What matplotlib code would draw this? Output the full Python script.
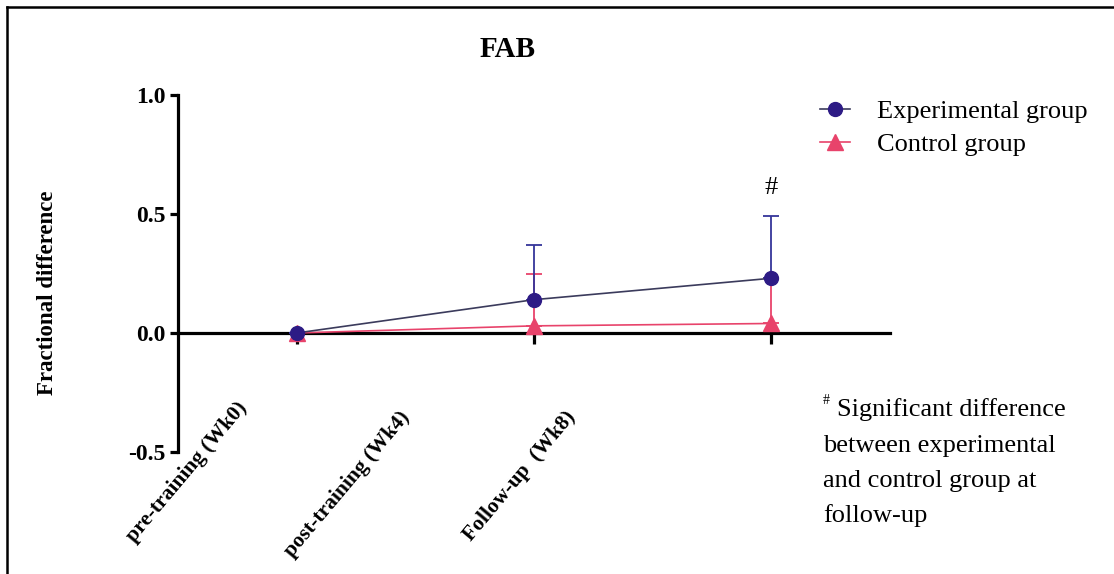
import matplotlib.pyplot as plt
from matplotlib.lines import Line2D

plt.rcParams['font.family'] = ['Liberation Serif', 'DejaVu Serif']

# time points and group means (fractional difference) with upper SD limits
timepoints = ['pre-training (Wk0)', 'post-training (Wk4)', 'Follow-up  (Wk8)']
exp_mean = [0.0, 0.14, 0.23]
exp_upper = [0.0, 0.37, 0.49]
ctrl_mean = [0.0, 0.03, 0.04]
ctrl_upper = [0.0, 0.25, 0.23]

footnote = ['Significant difference', 'between experimental',
            'and control group at', 'follow-up']

exp_color = '#2d1b85'
exp_line = '#3b3b5c'
ctrl_color = '#e8436b'

W, H = 1114, 574
fig = plt.figure(figsize=(W / 100, H / 100), dpi=100)
ax = fig.add_axes([178 / W, 1 - 452 / H, (890 - 178) / W, (452 - 95) / H])

x = list(range(len(timepoints)))
ctrl_err = [[0] * 3, [u - m for u, m in zip(ctrl_upper, ctrl_mean)]]
exp_err = [[0] * 3, [u - m for u, m in zip(exp_upper, exp_mean)]]

# control drawn first so the experimental group sits on top
ax.errorbar(x, ctrl_mean, yerr=ctrl_err, fmt='none', ecolor=ctrl_color,
            elinewidth=1.3, capsize=6, capthick=1.3, zorder=3)
ax.plot(x, ctrl_mean, color=ctrl_color, lw=1.2, marker='^', ms=11,
        mfc=ctrl_color, mec=ctrl_color, zorder=4, label='Control group')
ax.errorbar(x, exp_mean, yerr=exp_err, fmt='none', ecolor='#35359a',
            elinewidth=1.3, capsize=6, capthick=1.3, zorder=5)
ax.plot(x, exp_mean, color=exp_line, lw=1.2, marker='o', ms=10,
        mfc=exp_color, mec=exp_color, zorder=6, label='Experimental group')

ax.set_xlim(-0.5, 2.5)
ax.set_ylim(-0.5, 1.0)
ax.set_yticks([-0.5, 0.0, 0.5, 1.0])
ax.set_yticklabels(['-0.5', '0.0', '0.5', '1.0'], fontsize=17, fontweight='bold')
ax.set_xticks(x)
ax.set_xticklabels([])

for s in ['top', 'right']:
    ax.spines[s].set_visible(False)
ax.spines['left'].set_linewidth(2.3)
ax.spines['bottom'].set_linewidth(2.3)
ax.spines['bottom'].set_position(('data', 0))
ax.spines['left'].set_bounds(-0.5, 1.0)
ax.tick_params(axis='y', length=6, width=2.3, pad=3)
ax.tick_params(axis='x', length=8, width=2.3)

# rotated category labels under the plot
label_x = [-0.225, 0.462, 1.160]
label_y = [-0.30, -0.34, -0.34]
for lx, ly, t in zip(label_x, label_y, timepoints):
    ax.text(lx, ly, t, rotation=50, rotation_mode='anchor', ha='right',
            va='center', fontsize=15.5, fontweight='bold', clip_on=False)

# significance mark above follow-up
ax.text(2, 0.61, '#', ha='center', va='center', fontsize=19)

fig.text(508 / W, 1 - 57 / H, 'FAB', ha='center', va='baseline',
         fontsize=21, fontweight='bold')
fig.text(48 / W, 1 - 293 / H, 'Fractional difference', rotation=90,
         ha='center', va='center', fontsize=16.5, fontweight='bold')

h, l = ax.get_legend_handles_labels()
fig.legend(h[::-1], l[::-1], loc='upper left', bbox_to_anchor=(820 / W, 1 - 100 / H),
           frameon=False, fontsize=19, handlelength=1.15, handletextpad=1.0,
           labelspacing=0.36, borderpad=0, borderaxespad=0)

# footnote, one text per line
fig.text(823 / W, 1 - 401 / H, '#', fontsize=10, va='center', ha='left')
baselines = [416, 452, 487, 522]
for i, (line, b) in enumerate(zip(footnote, baselines)):
    fx = 837 if i == 0 else 823
    fig.text(fx / W, 1 - b / H, line, fontsize=19, va='baseline', ha='left')

# frame lines along the left and top edges
fig.add_artist(Line2D([6.5 / W, 6.5 / W], [0, 1 - 6.5 / H], color='black', lw=1.8,
                      transform=fig.transFigure))
fig.add_artist(Line2D([6.5 / W, 1], [1 - 6.5 / H, 1 - 6.5 / H], color='black', lw=1.8,
                      transform=fig.transFigure))

fig.savefig('out.png', dpi=100, facecolor='white')
